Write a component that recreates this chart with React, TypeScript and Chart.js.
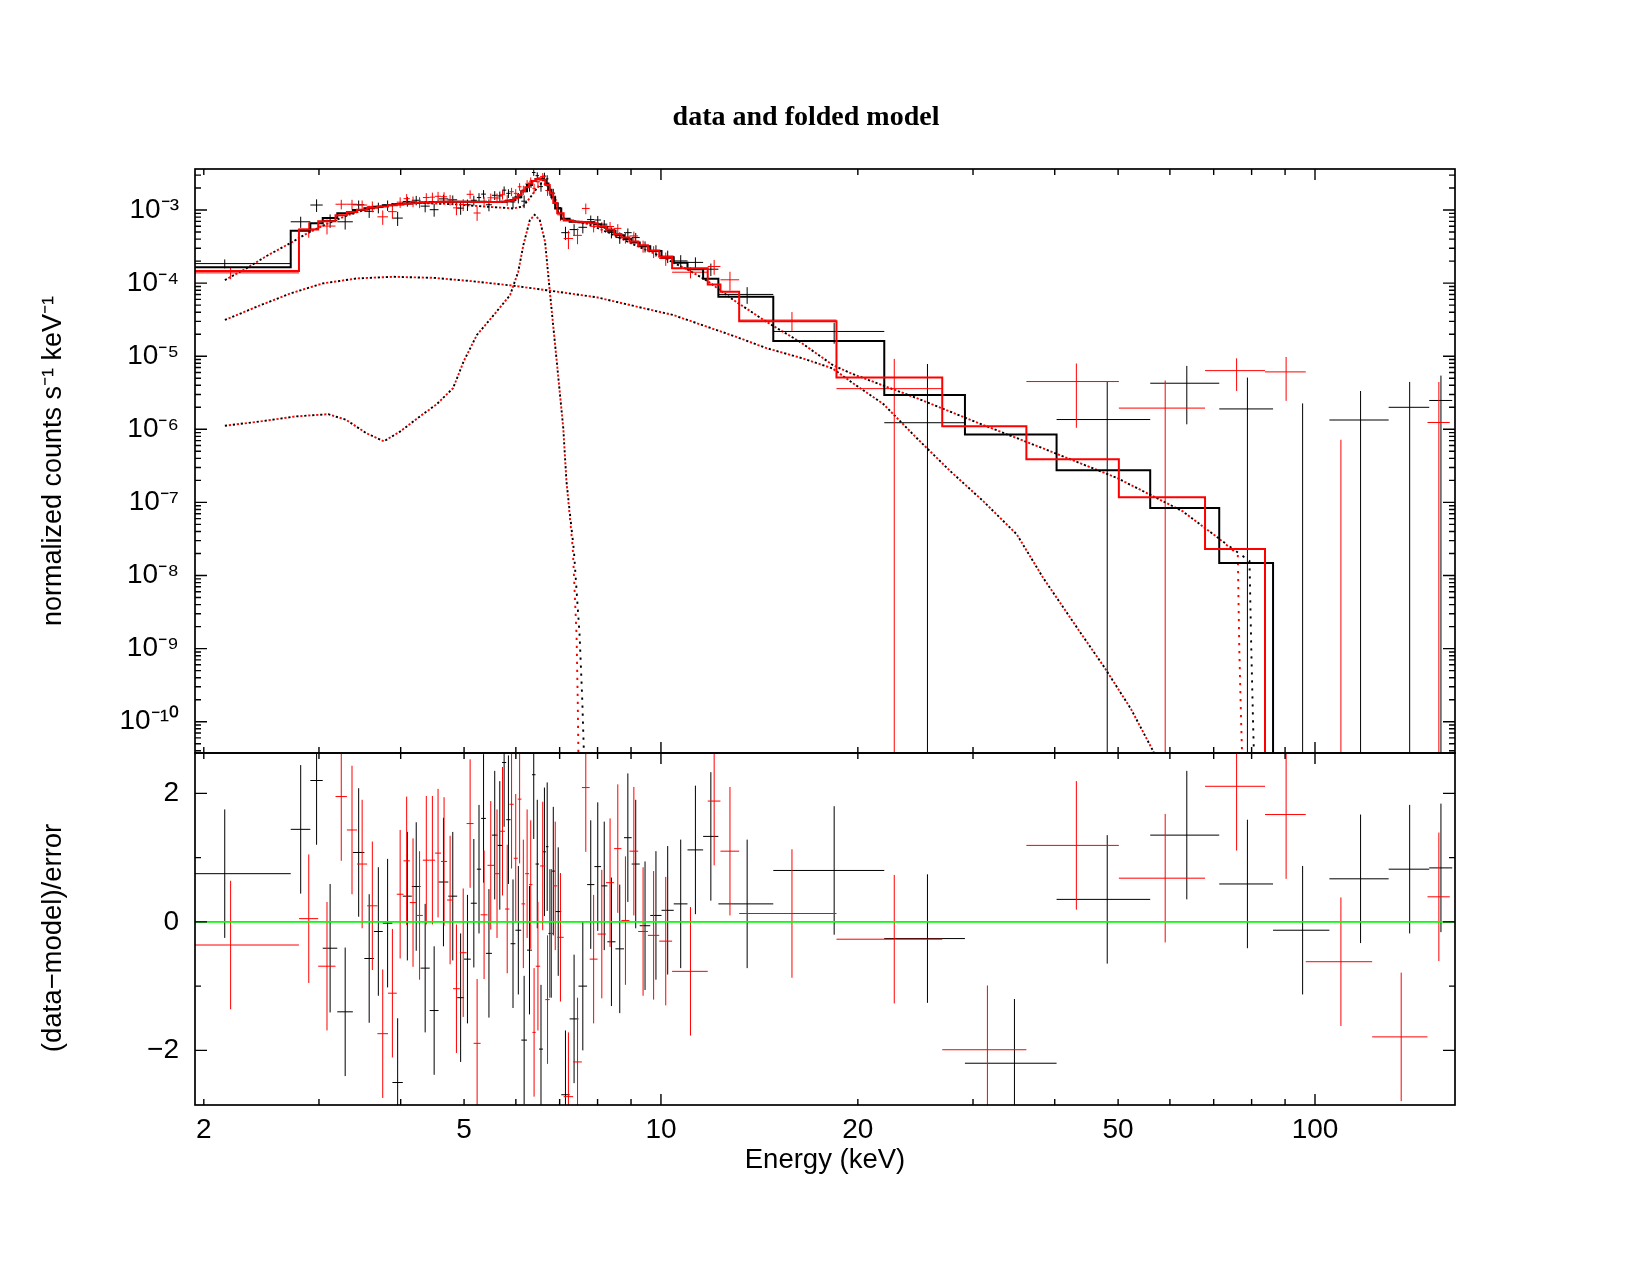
import React, { useEffect, useRef } from "react";
import { Chart, registerables } from "chart.js";

Chart.register(...registerables);

// ---------------- axis ranges & ticks ----------------
const ENERGY_MIN = 1.939;
const ENERGY_MAX = 163.7;
const COUNTS_MIN = 3.73e-11;
const COUNTS_MAX = 3.64e-3;
const RESID_MIN = -2.85;
const RESID_MAX = 2.628;

const ENERGY_TICK_LABELS = [2, 5, 10, 20, 50, 100];
const ENERGY_TICKS = [2, 3, 4, 5, 6, 7, 8, 9, 10, 20, 30, 40, 50, 60, 70, 80, 90, 100];
const COUNT_LABEL_EXPONENTS = [-10, -9, -8, -7, -6, -5, -4, -3];
const COUNT_MINOR_EXPONENTS = [-11, -10, -9, -8, -7, -6, -5, -4, -3];
const RESID_TICK_LABELS = [-2, 0, 2];
const RESID_TICKS = [-2, -1, 0, 1, 2];

// ---------------- spectrum 1 (black) ----------------
const blackEdges = [1.59, 2.716, 2.91, 3.04, 3.2, 3.38, 3.52, 3.64, 3.755, 3.885, 4.03, 4.16, 4.29, 4.43, 4.57, 4.73, 4.88, 5.0, 5.12, 5.23, 5.31, 5.4, 5.515, 5.625, 5.715, 5.8, 5.89, 5.99, 6.115, 6.24, 6.35, 6.43, 6.51, 6.6, 6.67, 6.73, 6.8, 6.89, 7.04, 7.25, 7.48, 7.71, 7.91, 8.1, 8.28, 8.52, 8.78, 9.02, 9.28, 9.63, 10.02, 10.46, 10.98, 11.6, 12.24, 14.85, 21.95, 29.16, 40.26, 55.98, 71.38, 86.27, 105.2, 129.6, 149.5, 162.1];
const blackModel = [1.65e-4, 5.2e-4, 6.6e-4, 7.8e-4, 9.0e-4, 1.0e-3, 1.06e-3, 1.11e-3, 1.16e-3, 1.2e-3, 1.23e-3, 1.25e-3, 1.27e-3, 1.29e-3, 1.3e-3, 1.3e-3, 1.3e-3, 1.3e-3, 1.3e-3, 1.3e-3, 1.3e-3, 1.29e-3, 1.29e-3, 1.29e-3, 1.3e-3, 1.32e-3, 1.37e-3, 1.5e-3, 1.8e-3, 2.2e-3, 2.5e-3, 2.65e-3, 2.7e-3, 2.55e-3, 2.3e-3, 1.9e-3, 1.5e-3, 1.05e-3, 7.6e-4, 6.9e-4, 6.8e-4, 6.8e-4, 6.4e-4, 5.9e-4, 5.2e-4, 4.5e-4, 4.0e-4, 3.6e-4, 3.2e-4, 2.75e-4, 2.25e-4, 1.9e-4, 1.55e-4, 1.15e-4, 6.5e-5, 1.62e-5, 2.95e-6, 8.5e-7, 2.75e-7, 8.4e-8, 1.48e-8, 1e-14, 1e-14, 1e-14, 1e-14];
const blackData = [1.85e-4, 6.9e-4, 1.17e-3, 7.2e-4, 6.9e-4, 1.18e-3, 9.6e-4, 1.08e-3, 1.16e-3, 7.75e-4, 1.31e-3, 1.36e-3, 1.13e-3, 1.01e-3, 1.42e-3, 1.38e-3, 1.06e-3, 1.18e-3, 1.36e-3, 1.48e-3, 1.65e-3, 1.18e-3, 1.59e-3, 1.56e-3, 1.87e-3, 1.69e-3, 1.29e-3, 1.47e-3, 1.32e-3, 2.07e-3, 3.26e-3, 2.95e-3, 2.09e-3, 2.91e-3, 2.67e-3, 1.85e-3, 1.7e-3, 1.08e-3, 4.9e-4, 5.4e-4, 5.8e-4, 7.4e-4, 7.3e-4, 6.4e-4, 4.94e-4, 4.2e-4, 4.9e-4, 4.2e-4, 3.17e-4, 2.8e-4, 2.33e-4, 2.01e-4, 1.92e-4, 1.55e-4, 7.0e-5, 2.18e-5, 1.23e-6, -1.13e-6, 1.36e-6, 4.27e-6, 1.9e-6, -3.4e-7, 1.34e-6, 2.0e-6, 2.48e-6];
const blackErr = [2.6e-5, 1.2e-4, 2.3e-4, 1.5e-4, 1.5e-4, 1.7e-4, 1.8e-4, 1.8e-4, 1.9e-4, 1.7e-4, 2.0e-4, 2.0e-4, 2.0e-4, 2.0e-4, 2.0e-4, 2.0e-4, 2.0e-4, 2.1e-4, 2.1e-4, 2.2e-4, 2.2e-4, 2.2e-4, 2.2e-4, 2.3e-4, 2.3e-4, 2.3e-4, 2.3e-4, 2.4e-4, 2.6e-4, 2.9e-4, 3.3e-4, 3.3e-4, 3.1e-4, 3.3e-4, 3.2e-4, 2.9e-4, 2.5e-4, 1.9e-4, 1.0e-4, 1.0e-4, 1.0e-4, 1.0e-4, 1.0e-4, 9e-5, 8.5e-5, 7.5e-5, 7e-5, 6.5e-5, 5.5e-5, 5e-5, 4.5e-5, 4e-5, 3.3e-5, 3e-5, 1.8e-5, 7e-6, 6.6e-6, 9e-7, 3.1e-6, 3.1e-6, 3.2e-6, 2.6e-6, 2.0e-6, 2.45e-6, 2.95e-6];
const blackResid = [0.75, 1.44, 2.2, -0.41, -1.4, 1.08, -0.57, -0.15, -0.02, -2.5, 0.4, 0.55, -0.72, -1.38, 0.62, 0.4, -1.18, -0.58, 0.29, 0.82, 1.61, -0.49, 1.35, 1.19, 2.48, 1.59, -0.34, -0.13, -1.84, -0.44, 2.29, 0.9, -1.98, 1.09, 1.17, -0.18, 0.79, 0.16, -2.69, -1.51, -1.0, 0.58, 0.86, 0.56, -0.31, -0.42, 1.31, 0.9, -0.06, 0.1, 0.18, 0.28, 1.12, 1.33, 0.28, 0.8, -0.26, -2.2, 0.35, 1.35, 0.59, -0.13, 0.67, 0.82, 0.84];

// ---------------- spectrum 2 (red) ----------------
const redEdges = [1.6, 2.796, 2.992, 3.18, 3.31, 3.43, 3.555, 3.685, 3.825, 3.945, 4.04, 4.13, 4.225, 4.325, 4.43, 4.515, 4.61, 4.71, 4.81, 4.925, 5.045, 5.17, 5.3, 5.43, 5.555, 5.675, 5.775, 5.865, 5.955, 6.04, 6.12, 6.2, 6.285, 6.36, 6.435, 6.535, 6.655, 6.76, 6.845, 6.94, 7.1, 7.34, 7.57, 7.78, 8.0, 8.24, 8.48, 8.7, 8.95, 9.23, 9.55, 9.94, 10.4, 11.79, 12.33, 13.17, 18.55, 26.92, 36.2, 50.13, 67.9, 83.86, 96.8, 122.3, 148.6, 160.7];
const redModel = [1.47e-4, 5.4e-4, 7.0e-4, 8.5e-4, 9.4e-4, 1.01e-3, 1.07e-3, 1.12e-3, 1.16e-3, 1.19e-3, 1.22e-3, 1.24e-3, 1.26e-3, 1.27e-3, 1.28e-3, 1.29e-3, 1.3e-3, 1.3e-3, 1.3e-3, 1.3e-3, 1.3e-3, 1.29e-3, 1.29e-3, 1.29e-3, 1.29e-3, 1.3e-3, 1.32e-3, 1.36e-3, 1.45e-3, 1.6e-3, 1.8e-3, 2.05e-3, 2.3e-3, 2.5e-3, 2.65e-3, 2.6e-3, 2.2e-3, 1.7e-3, 1.25e-3, 9.0e-4, 7.2e-4, 6.9e-4, 6.8e-4, 6.6e-4, 6.0e-4, 5.4e-4, 4.7e-4, 4.2e-4, 3.7e-4, 3.3e-4, 2.8e-4, 2.3e-4, 1.6e-4, 9.6e-5, 7.6e-5, 3.0e-5, 5.1e-6, 1.1e-6, 3.9e-7, 1.18e-7, 2.3e-8, 1e-14, 1e-14, 1e-14, 1e-14];
const redData = [1.38e-4, 5.47e-4, 6.03e-4, 1.2e-3, 1.2e-3, 1.17e-3, 1.12e-3, 8.07e-4, 9.5e-4, 1.28e-3, 1.43e-3, 1.31e-3, 1.28e-3, 1.48e-3, 1.5e-3, 1.54e-3, 1.52e-3, 1.38e-3, 1.07e-3, 1.19e-3, 1.64e-3, 9.1e-4, 1.31e-3, 1.47e-3, 1.46e-3, 1.62e-3, 1.37e-3, 1.78e-3, 1.69e-3, 2.08e-3, 1.88e-3, 2.27e-3, 2.48e-3, 1.98e-3, 2.43e-3, 2.88e-3, 1.85e-3, 1.65e-3, 1.37e-3, 8.6e-4, 4.07e-4, 4.5e-4, 1.05e-3, 5.99e-4, 5.81e-4, 5.95e-4, 5.61e-4, 4.22e-4, 4.42e-4, 3.21e-4, 2.7e-4, 2.17e-4, 1.41e-4, 1.69e-4, 1.11e-4, 3.12e-5, 3.6e-6, -2.08e-6, 4.5e-6, 1.95e-6, 6.35e-6, 6.1e-6, -1.68e-6, -3.2e-6, 1.24e-6];
const redErr = [2.5e-5, 1.3e-4, 1.4e-4, 1.8e-4, 1.8e-4, 1.8e-4, 1.9e-4, 1.8e-4, 1.9e-4, 2.1e-4, 2.2e-4, 2.2e-4, 2.2e-4, 2.2e-4, 2.3e-4, 2.3e-4, 2.3e-4, 2.3e-4, 2.2e-4, 2.2e-4, 2.2e-4, 2.0e-4, 2.1e-4, 2.1e-4, 2.2e-4, 2.3e-4, 2.3e-4, 2.3e-4, 2.4e-4, 2.5e-4, 2.7e-4, 2.9e-4, 3.1e-4, 3.0e-4, 3.2e-4, 3.2e-4, 2.9e-4, 2.6e-4, 2.1e-4, 1.5e-4, 1.15e-4, 1.1e-4, 1.75e-4, 1.05e-4, 1.0e-4, 9e-5, 8e-5, 7.5e-5, 6.5e-5, 6e-5, 5e-5, 4.5e-5, 2.5e-5, 3.9e-5, 3.2e-5, 9e-6, 5.6e-6, 1.6e-6, 3.45e-6, 2.7e-6, 3.0e-6, 3.65e-6, 2.4e-6, 1.8e-6, 3.2e-6];
const redResid = [-0.36, 0.05, -0.69, 1.95, 1.43, 0.9, 0.25, -1.74, -1.11, 0.43, 0.95, 0.3, 0.1, 0.96, 0.96, 1.07, 0.94, 0.34, -1.04, -0.48, 1.53, -1.89, 0.11, 0.88, 0.75, 1.41, 0.2, 1.83, 0.99, 1.91, 0.28, 0.75, 0.58, -1.72, -0.69, 0.87, -1.21, -0.18, 0.56, -0.24, -2.72, -2.18, 2.09, -0.58, -0.19, 0.61, 1.14, 0.02, 1.1, -0.15, -0.21, -0.3, -0.77, 1.88, 1.1, 0.13, -0.27, -1.99, 1.19, 0.68, 2.11, 1.67, -0.62, -1.79, 0.39];

// ---------------- model components (dotted) ----------------
const compA_E = [2.154, 2.326, 2.495, 2.723, 2.867, 3.042, 3.307, 3.59, 3.896, 4.28, 4.81, 5.41, 5.95, 6.15, 6.3, 6.45, 6.56, 6.68, 6.8, 6.89, 6.97, 7.13, 7.75, 8.4, 9.13, 10.02, 11.0, 11.8, 12.9, 14.5, 16.3, 18.3, 19.5, 24.6, 31.0, 39.4, 49.8, 62.7, 71.0];
const compA_V = [1.1e-4, 1.6e-4, 2.35e-4, 3.6e-4, 4.7e-4, 6.1e-4, 8.4e-4, 1.06e-3, 1.2e-3, 1.25e-3, 1.2e-3, 1.11e-3, 1.05e-3, 1.12e-3, 1.45e-3, 1.95e-3, 2.3e-3, 2.25e-3, 1.75e-3, 1.25e-3, 9.3e-4, 7.5e-4, 6.4e-4, 4.7e-4, 3.3e-4, 2.3e-4, 1.52e-4, 1.06e-4, 5.9e-5, 2.95e-5, 1.58e-5, 7.6e-6, 5.85e-6, 2.67e-6, 1.16e-6, 5.0e-7, 2.16e-7, 7.6e-8, 3.3e-8];
const compA_blackTail_E = [79.4, 79.9, 80.4, 80.8];
const compA_blackTail_V = [1.58e-8, 1e-9, 1e-10, 2e-11];
const compA_redTail_E = [76.2, 76.6, 77.1, 77.5];
const compA_redTail_V = [1.95e-8, 1e-9, 1e-10, 2e-11];

const compB_E = [2.154, 2.41, 2.71, 3.04, 3.43, 3.9, 4.49, 5.16, 5.95, 6.69, 7.97, 10.44, 12.9, 14.5, 16.5, 18.3, 19.5, 21.9, 24.6, 27.7, 31.1, 35.0, 38.4, 43.5, 47.6, 52.3, 57.5];
const compB_V = [3.13e-5, 4.75e-5, 7.2e-5, 9.9e-5, 1.16e-4, 1.22e-4, 1.18e-4, 1.06e-4, 9.2e-5, 8.0e-5, 6.4e-5, 3.66e-5, 1.9e-5, 1.29e-5, 9.3e-6, 6.8e-6, 4.5e-6, 2.2e-6, 7.6e-7, 2.67e-7, 1.04e-7, 3.65e-8, 9.3e-9, 1.8e-9, 5.6e-10, 1.5e-10, 3e-11];

const compC_E = [2.154, 2.44, 2.76, 3.1, 3.3, 3.54, 3.77, 3.99, 4.28, 4.54, 4.81, 4.99, 5.23, 5.55, 5.88, 6.05, 6.16, 6.3, 6.41, 6.53, 6.65, 6.77, 6.93, 7.09, 7.17];
const compC_V = [1.12e-6, 1.28e-6, 1.5e-6, 1.61e-6, 1.35e-6, 8.9e-7, 6.85e-7, 9.3e-7, 1.5e-6, 2.2e-6, 3.65e-6, 8.4e-6, 1.95e-5, 3.65e-5, 6.86e-5, 1.43e-4, 3.3e-4, 7.2e-4, 8.6e-4, 7.2e-4, 3.66e-4, 6.9e-5, 8.4e-6, 1.04e-6, 1.94e-7];
const compC_blackTail_E = [7.36, 7.51, 7.58, 7.63];
const compC_blackTail_V = [2.2e-8, 1.5e-9, 2e-10, 3e-11];
const compC_redTail_E = [7.33, 7.43, 7.46, 7.48];
const compC_redTail_V = [2.4e-8, 1.5e-9, 2e-10, 3e-11];

// ---------------- helpers ----------------
type Pt = { x: number; y: number };
const SANS = '"Liberation Sans", Arial, Helvetica, sans-serif';
const SERIF = '"Liberation Serif", "Times New Roman", serif';
const SUP: Record<string, string> = { "-": "\u207B", "0": "\u2070", "1": "\u00B9", "2": "\u00B2", "3": "\u00B3", "4": "\u2074", "5": "\u2075", "6": "\u2076", "7": "\u2077", "8": "\u2078", "9": "\u2079" };
const sup = (s: string) => s.split("").map((c) => SUP[c] ?? c).join("");

function crossPoints(edges: number[], vals: number[], errs: number[] | number, logFloor: number | null): Pt[] {
  const pts: Pt[] = [];
  for (let i = 0; i < vals.length; i++) {
    const lo = edges[i];
    const hi = edges[i + 1];
    const c = (lo + hi) / 2;
    const v = vals[i];
    const e = typeof errs === "number" ? errs : errs[i];
    if (logFloor === null || v > 0) {
      pts.push({ x: lo, y: v }, { x: hi, y: v }, { x: c, y: NaN });
    }
    const top = v + e;
    let bot = v - e;
    if (logFloor !== null) {
      if (top <= 0) continue;
      if (bot <= 0) bot = logFloor;
    }
    pts.push({ x: c, y: bot }, { x: c, y: top }, { x: c, y: NaN });
  }
  return pts;
}

function stepPoints(edges: number[], vals: number[]): Pt[] {
  const pts: Pt[] = [];
  for (let i = 0; i < vals.length; i++) {
    pts.push({ x: edges[i], y: vals[i] }, { x: edges[i + 1], y: vals[i] });
  }
  return pts;
}

function curve(es: number[], vs: number[]): Pt[] {
  return es.map((e, i) => ({ x: e, y: vs[i] }));
}

function framePlugin(yTicks: { v: number; major: boolean }[]) {
  return {
    id: "frameTicks",
    afterDatasetsDraw(chart: any) {
      const { ctx, chartArea: a, scales } = chart;
      const xs = scales.x;
      const ys = scales.y;
      ctx.save();
      ctx.strokeStyle = "#000";
      ctx.lineWidth = 1.7;
      ctx.strokeRect(a.left, a.top, a.right - a.left, a.bottom - a.top);
      ctx.lineWidth = 1.4;
      ctx.beginPath();
      for (const v of ENERGY_TICKS) {
        const p = xs.getPixelForValue(v);
        if (p < a.left || p > a.right) continue;
        const L = v === 10 || v === 100 ? 11 : 6;
        ctx.moveTo(p, a.top);
        ctx.lineTo(p, a.top + L);
        ctx.moveTo(p, a.bottom);
        ctx.lineTo(p, a.bottom - L);
      }
      for (const t of yTicks) {
        const p = ys.getPixelForValue(t.v);
        if (p < a.top - 0.5 || p > a.bottom + 0.5) continue;
        const L = t.major ? 12 : 6;
        ctx.moveTo(a.left, p);
        ctx.lineTo(a.left + L, p);
        ctx.moveTo(a.right, p);
        ctx.lineTo(a.right - L, p);
      }
      ctx.stroke();
      ctx.restore();
    },
  };
}

const titlePlugin = {
  id: "plotTitle",
  afterDraw(chart: any) {
    const ctx = chart.ctx;
    ctx.save();
    ctx.font = `bold 28px ${SERIF}`;
    ctx.fillStyle = "#000";
    ctx.textAlign = "center";
    ctx.textBaseline = "middle";
    ctx.fillText("data and folded model", 806, 118);
    ctx.restore();
  },
};

// rotated y-axis label of the residual panel (centred slightly below the panel middle, as in the reference)
const residLabelPlugin = {
  id: "residLabel",
  afterDraw(chart: any) {
    const ctx = chart.ctx;
    const a = chart.chartArea;
    ctx.save();
    ctx.font = `27.5px ${SANS}`;
    ctx.fillStyle = "#000";
    ctx.textAlign = "center";
    ctx.textBaseline = "middle";
    ctx.translate(53, (a.top + a.bottom) / 2 + 9);
    ctx.rotate(-Math.PI / 2);
    ctx.fillText("(data\u2212model)/error", 0, 0);
    ctx.restore();
  },
};

const lineDs = (data: Pt[], color: string, width: number, order: number, extra: any = {}) => ({
  data,
  borderColor: color,
  backgroundColor: color,
  borderWidth: width,
  pointRadius: 0,
  fill: false,
  spanGaps: false,
  tension: 0,
  order,
  ...extra,
});

// canvas geometry: top canvas 0..793 (plot 169..753), bottom canvas 713..1275 (plot 753..1105)
const TOP_CANVAS_H = 793;
const BOT_CANVAS_TOP = 713;
const BOT_CANVAS_H = 1275 - BOT_CANVAS_TOP;

export default function App() {
  const topRef = useRef<HTMLCanvasElement | null>(null);
  const botRef = useRef<HTMLCanvasElement | null>(null);

  useEffect(() => {
    const countTicks: { v: number; major: boolean }[] = [];
    for (const e of COUNT_MINOR_EXPONENTS) {
      for (let k = 1; k <= 9; k++) countTicks.push({ v: k * Math.pow(10, e), major: k === 1 });
    }
    const residTicks = RESID_TICKS.map((v) => ({ v, major: v % 2 === 0 }));

    const dotted = { borderDash: [2.2, 5.8], borderCapStyle: "butt" };
    const dottedRed = { borderDash: [2.2, 5.8], borderDashOffset: 4, borderCapStyle: "butt" };
    const DOT_W = 1.9;

    const top = new Chart(topRef.current as HTMLCanvasElement, {
      type: "line",
      data: {
        datasets: [
          lineDs(stepPoints(redEdges, redModel), "#ff0000", 2, 0),
          lineDs(stepPoints(blackEdges, blackModel), "#000000", 2, 1),
          lineDs(crossPoints(redEdges, redData, redErr, 1e-30), "#ff0000", 1, 2),
          lineDs(crossPoints(blackEdges, blackData, blackErr, 1e-30), "#000000", 1, 3),
          lineDs(curve(compA_E.concat(compA_redTail_E), compA_V.concat(compA_redTail_V)), "#ff0000", DOT_W, 4, dottedRed),
          lineDs(curve(compB_E, compB_V), "#ff0000", DOT_W, 5, dottedRed),
          lineDs(curve(compC_E.concat(compC_redTail_E), compC_V.concat(compC_redTail_V)), "#ff0000", DOT_W, 6, dottedRed),
          lineDs(curve(compA_E.concat(compA_blackTail_E), compA_V.concat(compA_blackTail_V)), "#000000", DOT_W, 7, dotted),
          lineDs(curve(compB_E, compB_V), "#000000", DOT_W, 8, dotted),
          lineDs(curve(compC_E.concat(compC_blackTail_E), compC_V.concat(compC_blackTail_V)), "#000000", DOT_W, 9, dotted),
        ],
      },
      options: {
        animation: false,
        responsive: false,
        devicePixelRatio: 1,
        events: [],
        layout: { padding: { left: 0, right: 195, top: 169, bottom: TOP_CANVAS_H - 753 } },
        plugins: { legend: { display: false }, tooltip: { enabled: false }, title: { display: false } },
        elements: { point: { radius: 0 }, line: { tension: 0 } },
        scales: {
          x: { type: "logarithmic", display: false, min: ENERGY_MIN, max: ENERGY_MAX },
          y: {
            type: "logarithmic",
            position: "left",
            min: COUNTS_MIN,
            max: COUNTS_MAX,
            afterFit: (s: any) => {
              s.width = 195;
            },
            afterBuildTicks: (s: any) => {
              s.ticks = COUNT_LABEL_EXPONENTS.map((e) => ({ value: Math.pow(10, e) }));
            },
            ticks: {
              autoSkip: false,
              color: "#000",
              font: { family: SANS, size: 28 },
              padding: 16,
              callback: (v: any) => "10" + sup(String(Math.round(Math.log10(Number(v))))),
            },
            grid: { display: false, drawTicks: false },
            border: { display: false },
            title: {
              display: true,
              text: "normalized counts s\u207B\u00B9 keV\u207B\u00B9",
              color: "#000",
              font: { family: SANS, size: 27 },
              padding: { top: 37, bottom: 0 },
            },
          },
        },
      } as any,
      plugins: [framePlugin(countTicks), titlePlugin],
    });

    const bot = new Chart(botRef.current as HTMLCanvasElement, {
      type: "line",
      data: {
        datasets: [
          lineDs([{ x: ENERGY_MIN, y: 0 }, { x: ENERGY_MAX, y: 0 }], "#00ff00", 1.6, 0),
          lineDs(crossPoints(redEdges, redResid, 1, null), "#ff0000", 1, 1),
          lineDs(crossPoints(blackEdges, blackResid, 1, null), "#000000", 1, 2),
        ],
      },
      options: {
        animation: false,
        responsive: false,
        devicePixelRatio: 1,
        events: [],
        layout: { padding: { left: 0, right: 195, top: 753 - BOT_CANVAS_TOP, bottom: 0 } },
        plugins: { legend: { display: false }, tooltip: { enabled: false }, title: { display: false } },
        elements: { point: { radius: 0 }, line: { tension: 0 } },
        scales: {
          x: {
            type: "logarithmic",
            position: "bottom",
            min: ENERGY_MIN,
            max: ENERGY_MAX,
            afterFit: (s: any) => {
              s.height = 1275 - 1105;
            },
            afterBuildTicks: (s: any) => {
              s.ticks = ENERGY_TICK_LABELS.map((v) => ({ value: v }));
            },
            ticks: {
              autoSkip: false,
              maxRotation: 0,
              minRotation: 0,
              color: "#000",
              font: { family: SANS, size: 28 },
              padding: 8,
              callback: (v: any) => String(v),
            },
            grid: { display: false, drawTicks: false },
            border: { display: false },
            title: {
              display: true,
              text: "Energy (keV)",
              color: "#000",
              font: { family: SANS, size: 27.5 },
              padding: { top: 0, bottom: 98 },
            },
          },
          y: {
            type: "linear",
            position: "left",
            min: RESID_MIN,
            max: RESID_MAX,
            afterFit: (s: any) => {
              s.width = 195;
            },
            afterBuildTicks: (s: any) => {
              s.ticks = RESID_TICK_LABELS.map((v) => ({ value: v }));
            },
            ticks: {
              autoSkip: false,
              color: "#000",
              font: { family: SANS, size: 28 },
              padding: 16,
              callback: (v: any) => (Number(v) < 0 ? "\u2212" + Math.abs(Number(v)) : String(v)),
            },
            grid: { display: false, drawTicks: false },
            border: { display: false },
            title: { display: false },
          },
        },
      } as any,
      plugins: [framePlugin(residTicks), residLabelPlugin],
    });

    return () => {
      top.destroy();
      bot.destroy();
    };
  }, []);

  return (
    <div style={{ position: "absolute", left: 0, top: 0, width: 1650, height: 1275, background: "#ffffff", overflow: "hidden" }}>
      <canvas ref={topRef} width={1650} height={TOP_CANVAS_H} style={{ position: "absolute", left: 0, top: 0, width: 1650, height: TOP_CANVAS_H }} />
      <canvas ref={botRef} width={1650} height={BOT_CANVAS_H} style={{ position: "absolute", left: 0, top: BOT_CANVAS_TOP, width: 1650, height: BOT_CANVAS_H }} />
    </div>
  );
}
